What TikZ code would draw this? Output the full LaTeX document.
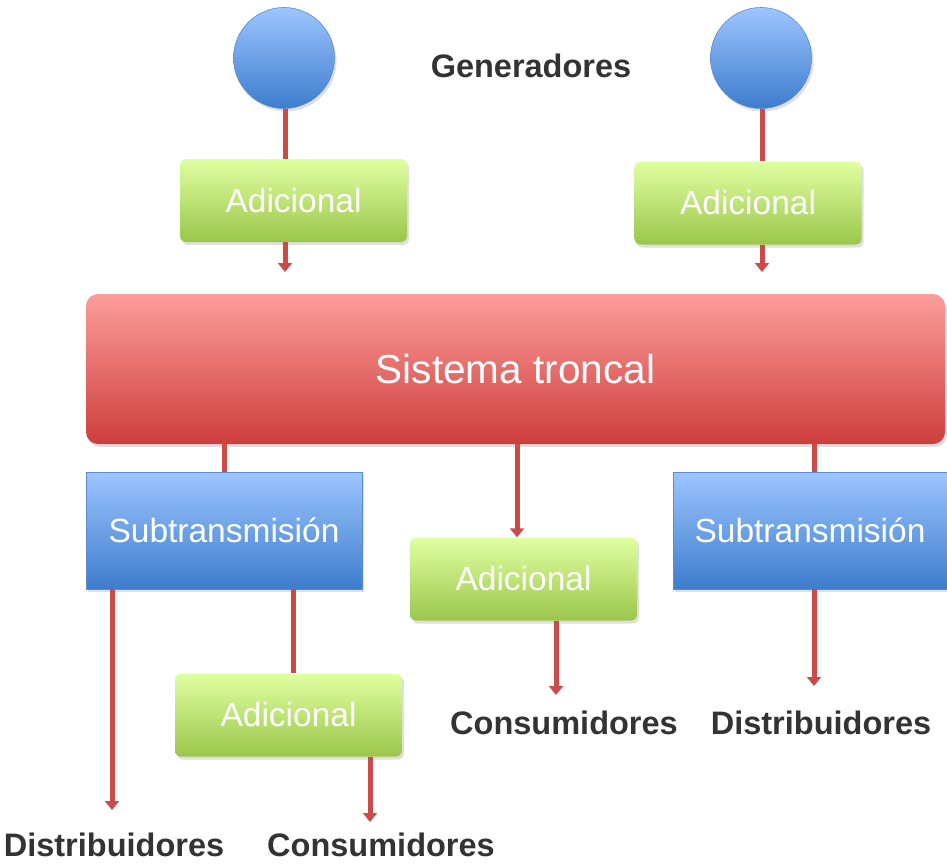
\documentclass[tikz,border=0pt]{standalone}
\usepackage{fontspec}
\setmainfont{Liberation Sans}
\usetikzlibrary{arrows.meta,shadows}
\definecolor{lnred}{HTML}{CC4B48}
\definecolor{gtop}{HTML}{E0FFA2}
\definecolor{gbot}{HTML}{9BC64A}
\definecolor{btop}{HTML}{9DC5FF}
\definecolor{bbot}{HTML}{3D7DCD}
\definecolor{bedge}{HTML}{5C8CCB}
\definecolor{rtop}{HTML}{FC9D9A}
\definecolor{rbot}{HTML}{CE3E3D}
\definecolor{lblgray}{HTML}{333333}
\begin{document}
\begin{tikzpicture}[x=1pt,y=-1pt,
  shad/.style={drop shadow={opacity=0.25,shadow xshift=2pt,shadow yshift=-3pt}},
  base/.style={inner sep=0pt, text=white, shad},
  gbox/.style={base, rectangle, rounded corners=6pt, minimum width=227pt, minimum height=83pt,
     top color=gtop, bottom color=gbot, font=\fontsize{33.5}{33.5}\selectfont},
  bbox/.style={base, rectangle, minimum height=117pt, top color=btop, bottom color=bbot,
     draw=bedge, line width=0.6pt, font=\fontsize{33.5}{33.5}\selectfont},
  rbox/.style={base, rectangle, rounded corners=12pt, minimum width=859pt, minimum height=150pt,
     top color=rtop, bottom color=rbot, font=\fontsize{40.5}{40.5}\selectfont},
  gen/.style={base, circle, minimum size=101pt, top color=btop, bottom color=bbot,
     draw=bedge, line width=0.6pt},
  lbl/.style={inner sep=0pt, text=lblgray, font=\bfseries\fontsize{32.5}{32.5}\selectfont},
  conn/.style={draw=lnred, line width=5pt},
  arr/.style={conn, -{Triangle[width=14pt,length=9pt]}}
]
\useasboundingbox[fill=white] (0,0) rectangle (947,864);

% generators
\node[gen] (circ1) at (284,58) {};
\node[gen] (circ2) at (761,58) {};
\node[lbl] (gentext) at (531,66) {Generadores};

% additional boxes
\node[gbox] (ad1) at (293.5,200.5) {Adicional};
\node[gbox] (ad2) at (748,203) {Adicional};
\node[gbox] (ad3) at (523.5,579) {Adicional};
\node[gbox] (ad4) at (288.5,715) {Adicional};

% trunk system
\node[rbox] (sis) at (515.5,369) {Sistema troncal};

% subtransmission
\node[bbox, minimum width=276pt] (sub1) at (224,530.5) {Subtransmisión};
\node[bbox, minimum width=274pt] (sub2) at (810,530.5) {Subtransmisión};

% labels
\node[lbl] (con1) at (564,723) {Consumidores};
\node[lbl] (dis1) at (821,723) {Distribuidores};
\node[lbl] (dis2) at (114,845) {Distribuidores};
\node[lbl] (con2) at (381,845) {Consumidores};

% arrow end points
\coordinate (e1) at (285,272);
\coordinate (e2) at (762,272);
\coordinate (e3) at (556,695);
\coordinate (e4) at (814,686);
\coordinate (e5) at (112,810);
\coordinate (e6) at (370,822);

% connectors
\draw[conn] ([xshift=1pt]circ1.south) -- ([xshift=1pt]circ1.south |- ad1.north);
\draw[arr] (ad1.south -| e1) -- (e1);
\draw[conn] ([xshift=1pt]circ2.south) -- ([xshift=1pt]circ2.south |- ad2.north);
\draw[arr] (ad2.south -| e2) -- (e2);

\draw[conn] (sub1.north |- sis.south) -- (sub1.north);
\draw[arr] ([xshift=-6.5pt]ad3.north |- sis.south) -- ([xshift=-6.5pt]ad3.north);
\draw[conn] ([xshift=4pt]sub2.north |- sis.south) -- ([xshift=4pt]sub2.north);

\draw[arr] (ad3.south -| e3) -- (e3);
\draw[arr] (sub2.south -| e4) -- (e4);
\draw[arr] (sub1.south -| e5) -- (e5);
\draw[conn] ([xshift=4.5pt]ad4.north |- sub1.south) -- ([xshift=4.5pt]ad4.north);
\draw[arr] (ad4.south -| e6) -- (e6);
\end{tikzpicture}
\end{document}
